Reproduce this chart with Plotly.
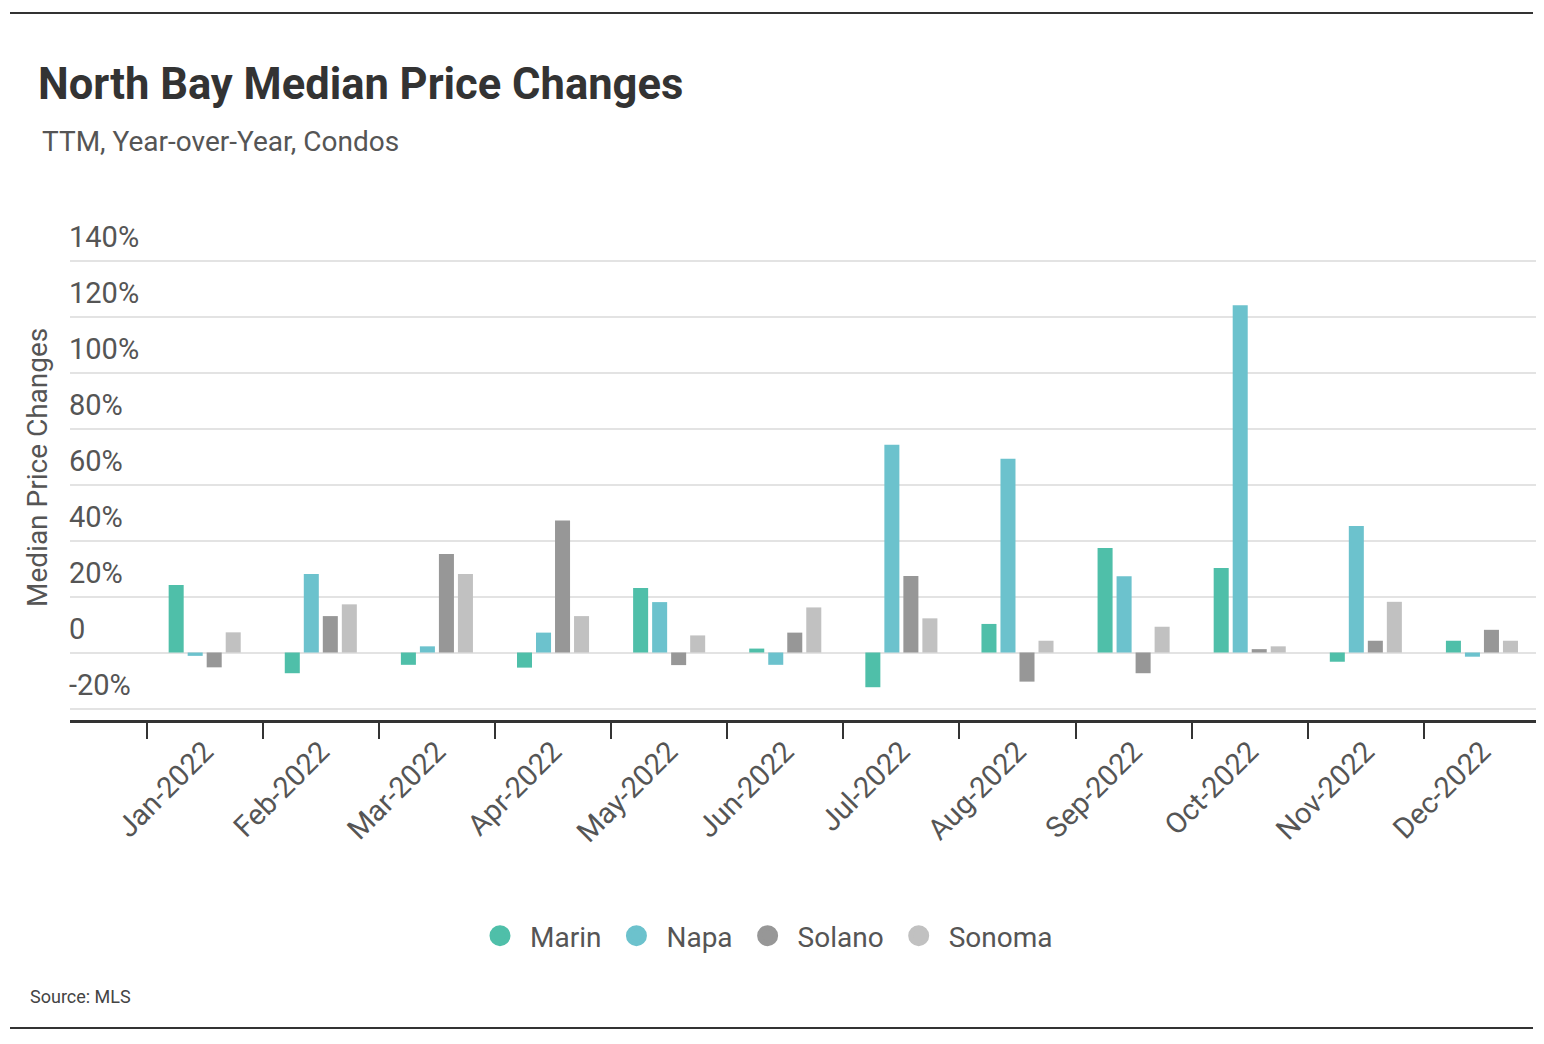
import plotly.graph_objects as go

months = ["Jan-2022", "Feb-2022", "Mar-2022", "Apr-2022", "May-2022", "Jun-2022",
          "Jul-2022", "Aug-2022", "Sep-2022", "Oct-2022", "Nov-2022", "Dec-2022"]
marin = [24.1, -7.4, -4.4, -5.4, 23.0, 1.4, -12.4, 10.2, 37.3, 30.2, -3.3, 4.2]
napa = [-1.2, 28.0, 2.2, 7.1, 18.0, -4.4, 74.2, 69.2, 27.2, 124.0, 45.2, -1.5]
solano = [-5.3, 13.0, 35.2, 47.1, -4.5, 7.1, 27.3, -10.4, -7.4, 1.2, 4.2, 8.1]
sonoma = [7.2, 17.2, 28.0, 13.0, 6.1, 16.1, 12.2, 4.2, 9.2, 2.2, 18.1, 4.2]

series_names = ["Marin", "Napa", "Solano", "Sonoma"]
series_values = [marin, napa, solano, sonoma]
colors = ["#4fbfa9", "#6cc2cd", "#979797", "#c1c1c1"]

ytick_vals = [-20, 0, 20, 40, 60, 80, 100, 120, 140]
ytick_text = ["-20%", "0", "20%", "40%", "60%", "80%", "100%", "120%", "140%"]

FONT = "Roboto, 'Noto Sans', sans-serif"
OFF = 8  # page body margin
PLOT_TOP = 213  # reference px
W, H = 1544 - OFF, 1044 - OFF
L, T = 70 - OFF, PLOT_TOP - OFF
R = W - (1540 - OFF)
B = H - (720 - OFF)
pw, ph = W - L - R, H - T - B
ZERO_PX, PX_PER_PCT = 652.5, 2.8
y_lo = (ZERO_PX - 720) / PX_PER_PCT
y_hi = (ZERO_PX - PLOT_TOP) / PX_PER_PCT


def px_x(p):
    return (p - OFF - L) / pw


def px_y(p):
    return (H - B - (p - OFF)) / ph


fig = go.Figure()
for name, vals, col in zip(series_names, series_values, colors):
    fig.add_trace(go.Bar(x=months, y=vals, name=name, marker=dict(color=col, line=dict(width=0)),
                         showlegend=False, legendgroup=name))
for name, col in zip(series_names, colors):
    fig.add_trace(go.Scatter(x=[None], y=[None], mode="markers", name=name, legendgroup=name,
                             marker=dict(color=col, size=16, symbol="circle", line=dict(color=col, width=5)),
                             showlegend=True, hoverinfo="skip"))

fig.update_layout(
    width=W, height=H,
    margin=dict(l=L, r=R, t=T, b=B),
    paper_bgcolor="white", plot_bgcolor="white",
    barmode="group", bargap=0.345, bargroupgap=0.21,
    font=dict(family=FONT, color="#555555"),
    title=dict(text="<b>North Bay Median Price Changes</b>", xref="container", yref="container",
               x=(38 - OFF) / W, xanchor="left", y=1 - (84 - OFF) / H, yanchor="middle",
               font=dict(size=43.5, color="#333333", family=FONT)),
    legend=dict(orientation="h", xref="container", yref="container", x=(764 - OFF) / W, xanchor="center",
                y=1 - (936 - OFF) / H, yanchor="middle", font=dict(size=28, color="#555555"),
                itemsizing="trace", traceorder="normal", itemwidth=50),
    xaxis=dict(type="category", range=[-1.16, 11.5], tickson="boundaries", ticks="outside",
               ticklen=16, tickwidth=2, tickcolor="#333333", showline=True, linecolor="#333333",
               linewidth=3, showgrid=False, tickangle=-45,
               tickfont=dict(size=29, color="#555555")),
    yaxis=dict(range=[y_lo, y_hi], tickvals=ytick_vals, ticktext=ytick_text,
               ticklabelposition="inside", ticklabelshift=-24, ticklabelstandoff=-4, ticks="",
               showgrid=True, gridcolor="#e3e3e3", gridwidth=2, zeroline=False, showline=False,
               tickfont=dict(size=29, color="#555555")),
    annotations=[
        dict(text="TTM, Year-over-Year, Condos", xref="paper", yref="paper", x=px_x(40), y=px_y(142),
             xanchor="left", yanchor="middle", showarrow=False, font=dict(size=28, color="#555555")),
        dict(text="Median Price Changes", xref="paper", yref="paper", x=px_x(37), y=px_y(468),
             xanchor="center", yanchor="middle", textangle=-90, showarrow=False,
             font=dict(size=28, color="#555555")),
        dict(text="Source: MLS", xref="paper", yref="paper", x=px_x(28), y=px_y(996),
             xanchor="left", yanchor="middle", showarrow=False, font=dict(size=18, color="#444444")),
    ],
    shapes=[
        dict(type="line", xref="paper", yref="paper", x0=px_x(10), x1=px_x(1533), y0=px_y(13), y1=px_y(13),
             line=dict(color="#333333", width=2)),
        dict(type="line", xref="paper", yref="paper", x0=px_x(10), x1=px_x(1533), y0=px_y(1028), y1=px_y(1028),
             line=dict(color="#333333", width=2)),
    ],
)

fig.write_html("out.html")
